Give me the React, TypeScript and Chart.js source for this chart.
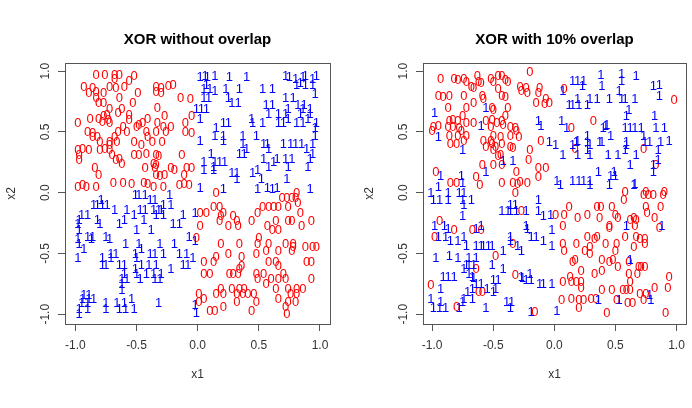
import React, { useEffect, useRef } from "react";
import { Chart, registerables } from "chart.js";

Chart.register(...registerables);

type Pt = [number, number];

const tickValues = [-1, -0.5, 0, 0.5, 1];
const tickLabels = ["-1.0", "-0.5", "0.0", "0.5", "1.0"];
const panelTitles = ["XOR without overlap", "XOR with 10% overlap"];
const xAxisTitle = "x1";
const yAxisTitle = "x2";
const classGlyphs = ["0", "1"];
const classColors = ["#ff0000", "#0000ff"];

// Panel 1: XOR without overlap, class "0"
const xorClass0: Pt[] = [
  [-0.83, 0.97], [-0.76, 0.97], [-0.68, 0.97], [-0.64, 0.97], [-0.52, 0.96], [-0.68, 0.94], [-0.56, 0.92],
  [-0.93, 0.87], [-0.86, 0.86], [-0.72, 0.87], [-0.67, 0.86], [-0.6, 0.87], [-0.34, 0.87], [-0.3, 0.86], [-0.24, 0.88], [-0.2, 0.89],
  [-0.89, 0.82], [-0.83, 0.83], [-0.77, 0.82], [-0.49, 0.82], [-0.34, 0.83], [-0.3, 0.82],
  [-0.83, 0.78], [-0.64, 0.78], [-0.14, 0.78], [-0.06, 0.77],
  [-0.81, 0.74], [-0.77, 0.74], [-0.53, 0.74],
  [-0.33, 0.7], [-0.72, 0.69], [-0.62, 0.69], [-0.65, 0.66],
  [-0.77, 0.63], [-0.74, 0.64], [-0.56, 0.64], [-0.27, 0.63], [-0.05, 0.63],
  [-0.88, 0.61], [-0.81, 0.61], [-0.73, 0.6], [-0.56, 0.6], [-0.41, 0.61],
  [-0.98, 0.57], [-0.78, 0.58], [-0.72, 0.57], [-0.48, 0.56], [-0.45, 0.57], [-0.33, 0.57], [-0.1, 0.57],
  [-0.61, 0.54], [-0.5, 0.54], [-0.28, 0.54], [-0.22, 0.54],
  [-0.9, 0.5], [-0.86, 0.49], [-0.65, 0.5], [-0.58, 0.5], [-0.42, 0.5], [-0.34, 0.5], [-0.26, 0.5], [-0.1, 0.5], [-0.05, 0.49],
  [-0.86, 0.46], [-0.82, 0.46], [-0.68, 0.46], [-0.41, 0.46],
  [-0.8, 0.42], [-0.72, 0.42], [-0.66, 0.42], [-0.52, 0.42], [-0.37, 0.42], [-0.29, 0.42],
  [-0.46, 0.39], [-0.72, 0.39],
  [-0.98, 0.35], [-0.94, 0.36], [-0.89, 0.35], [-0.8, 0.35], [-0.76, 0.36], [-0.72, 0.35],
  [-0.97, 0.31], [-0.7, 0.31], [-0.52, 0.31], [-0.48, 0.31], [-0.42, 0.32], [-0.34, 0.31], [-0.32, 0.3], [-0.13, 0.31],
  [-0.97, 0.27], [-0.67, 0.27], [-0.64, 0.28],
  [-0.62, 0.24], [-0.36, 0.24], [-0.34, 0.23],
  [-0.84, 0.2], [-0.43, 0.2], [-0.35, 0.2], [-0.22, 0.2], [-0.19, 0.19], [-0.09, 0.2], [-0.05, 0.2],
  [-0.81, 0.15], [-0.34, 0.15], [-0.31, 0.14], [-0.27, 0.15], [-0.11, 0.15],
  [-0.98, 0.05], [-0.94, 0.06], [-0.91, 0.05], [-0.83, 0.05], [-0.69, 0.08], [-0.61, 0.08], [-0.54, 0.07], [-0.44, 0.08],
  [-0.41, 0.07], [-0.36, 0.05], [-0.28, 0.05], [-0.15, 0.06], [-0.11, 0.07], [-0.07, 0.06],
  [0.15, 0.0], [0.81, 0.0],
  [0.69, -0.04], [0.73, -0.04], [0.77, -0.04], [0.8, -0.04], [0.82, -0.08],
  [0.13, -0.12], [0.18, -0.12], [0.53, -0.12], [0.58, -0.12], [0.62, -0.12], [0.66, -0.12], [0.74, -0.12],
  [0.02, -0.17], [0.07, -0.17], [0.21, -0.17], [0.49, -0.17], [0.84, -0.17],
  [0.19, -0.19], [0.29, -0.19],
  [0.18, -0.23], [0.32, -0.23], [0.44, -0.23], [0.64, -0.23], [0.74, -0.23], [0.77, -0.23], [0.93, -0.23],
  [0.02, -0.27], [0.25, -0.27], [0.33, -0.27], [0.57, -0.27], [0.85, -0.27],
  [0.61, -0.31], [0.66, -0.31],
  [-0.01, -0.37], [0.5, -0.37],
  [0.19, -0.42], [0.34, -0.42], [0.49, -0.42], [0.58, -0.42], [0.72, -0.42], [0.78, -0.42],
  [0.78, -0.45], [0.88, -0.45], [0.94, -0.45], [0.97, -0.45],
  [0.56, -0.48], [0.66, -0.48], [0.77, -0.48],
  [0.25, -0.5], [0.48, -0.5],
  [0.15, -0.53], [0.36, -0.53],
  [0.05, -0.57], [0.13, -0.57], [0.58, -0.57], [0.64, -0.57], [0.89, -0.57], [0.93, -0.57],
  [0.36, -0.6], [0.66, -0.6], [0.34, -0.63],
  [0.05, -0.67], [0.1, -0.67], [0.26, -0.67], [0.29, -0.67], [0.33, -0.67], [0.48, -0.67], [0.54, -0.67], [0.7, -0.67],
  [0.49, -0.71], [0.6, -0.71], [0.66, -0.71], [0.72, -0.71], [0.93, -0.71],
  [0.56, -0.75],
  [0.19, -0.79], [0.28, -0.79], [0.34, -0.79], [0.38, -0.79], [0.64, -0.79], [0.74, -0.79], [0.81, -0.79], [0.86, -0.79],
  [0.01, -0.83], [0.15, -0.83], [0.21, -0.83], [0.32, -0.83], [0.37, -0.83], [0.41, -0.83], [0.46, -0.83], [0.76, -0.83], [0.81, -0.83],
  [0.05, -0.87], [0.66, -0.87],
  [0.01, -0.9], [0.32, -0.9], [0.48, -0.9], [0.74, -0.9], [0.8, -0.9],
  [0.21, -0.94], [0.72, -0.94],
  [0.1, -0.97], [0.14, -0.97], [0.44, -0.97], [0.73, -1.0],
];

// Panel 1: XOR without overlap, class "1"
const xorClass1: Pt[] = [
  [0.02, 0.95], [0.06, 0.96], [0.08, 0.95], [0.14, 0.96], [0.26, 0.95], [0.4, 0.95], [0.72, 0.96], [0.75, 0.95],
  [0.8, 0.94], [0.86, 0.95], [0.88, 0.96], [0.94, 0.94], [0.97, 0.96],
  [0.07, 0.89], [0.81, 0.89], [0.84, 0.9], [0.88, 0.89], [0.94, 0.89],
  [0.05, 0.85], [0.1, 0.85], [0.14, 0.84], [0.23, 0.85], [0.34, 0.85], [0.53, 0.85], [0.61, 0.85],
  [0.96, 0.81],
  [0.05, 0.78], [0.09, 0.78], [0.25, 0.78], [0.72, 0.78], [0.78, 0.78],
  [0.28, 0.74], [0.33, 0.74],
  [0.56, 0.72], [0.61, 0.72], [0.82, 0.72], [0.87, 0.72],
  [-0.01, 0.69], [0.03, 0.69], [0.07, 0.69], [0.74, 0.69], [0.86, 0.69], [0.92, 0.69],
  [0.58, 0.65], [0.66, 0.65], [0.72, 0.65], [0.84, 0.65], [0.92, 0.65],
  [0.02, 0.61], [0.44, 0.61], [0.74, 0.61], [0.9, 0.61],
  [0.21, 0.57], [0.25, 0.57], [0.45, 0.57], [0.53, 0.57], [0.66, 0.57], [0.7, 0.57], [0.81, 0.57], [0.86, 0.57], [0.97, 0.57],
  [0.15, 0.53], [0.96, 0.53],
  [0.14, 0.47], [0.21, 0.47], [0.37, 0.47], [0.48, 0.47], [0.96, 0.47],
  [0.02, 0.43], [0.21, 0.43],
  [0.37, 0.4], [0.54, 0.4], [0.57, 0.4], [0.7, 0.4], [0.76, 0.4], [0.8, 0.4], [0.85, 0.4], [0.94, 0.4],
  [0.4, 0.36], [0.58, 0.36], [0.89, 0.36],
  [0.11, 0.32], [0.34, 0.32], [0.38, 0.32], [0.94, 0.32],
  [0.54, 0.28], [0.65, 0.28], [0.72, 0.28], [0.77, 0.28], [0.92, 0.28],
  [0.05, 0.25], [0.14, 0.25], [0.18, 0.25], [0.22, 0.25], [0.62, 0.25],
  [0.13, 0.21], [0.58, 0.21], [0.74, 0.21], [0.9, 0.21],
  [0.05, 0.19], [0.13, 0.19], [0.49, 0.19],
  [0.28, 0.16], [0.32, 0.16], [0.45, 0.16],
  [0.32, 0.11], [0.52, 0.11], [0.73, 0.11],
  [0.02, 0.04], [0.21, 0.03], [0.49, 0.03], [0.57, 0.04], [0.61, 0.03], [0.65, 0.04], [0.92, 0.03],
  [-0.51, -0.02], [-0.48, -0.02], [-0.43, -0.02], [-0.23, -0.02],
  [-0.79, -0.06], [-0.39, -0.06], [-0.35, -0.06],
  [-0.85, -0.1], [-0.82, -0.1], [-0.78, -0.1], [-0.74, -0.1], [-0.28, -0.1], [-0.22, -0.1],
  [-0.68, -0.14], [-0.58, -0.14], [-0.47, -0.14], [-0.43, -0.14], [-0.36, -0.14], [-0.32, -0.14], [-0.3, -0.14],
  [-0.95, -0.18], [-0.9, -0.18], [-0.52, -0.18], [-0.34, -0.18], [-0.28, -0.18], [-0.12, -0.18], [-0.02, -0.17],
  [-0.97, -0.22], [-0.82, -0.22], [-0.6, -0.22], [-0.44, -0.22],
  [-0.98, -0.26], [-0.8, -0.26], [-0.64, -0.26], [-0.2, -0.26], [-0.15, -0.26],
  [-0.97, -0.31], [-0.5, -0.31], [-0.38, -0.31],
  [-0.9, -0.36], [-0.86, -0.36], [-0.75, -0.36], [-0.07, -0.36],
  [-0.98, -0.38], [-0.87, -0.38], [-0.72, -0.38], [-0.02, -0.4],
  [-0.97, -0.42], [-0.59, -0.42], [-0.48, -0.42], [-0.31, -0.42], [-0.19, -0.42],
  [-0.93, -0.46], [-0.46, -0.46],
  [-0.71, -0.5], [-0.67, -0.5], [-0.51, -0.5], [-0.39, -0.5], [-0.35, -0.5], [-0.28, -0.5], [-0.15, -0.5], [-0.09, -0.5],
  [-0.98, -0.54], [-0.78, -0.54], [-0.71, -0.54], [-0.5, -0.54], [-0.04, -0.54],
  [-0.78, -0.59], [-0.75, -0.59], [-0.64, -0.59], [-0.6, -0.59], [-0.46, -0.59], [-0.4, -0.59], [-0.34, -0.59], [-0.12, -0.59], [-0.08, -0.59],
  [-0.51, -0.63], [-0.22, -0.63],
  [-0.6, -0.67], [-0.5, -0.67], [-0.42, -0.67], [-0.36, -0.67], [-0.3, -0.67],
  [-0.62, -0.71], [-0.58, -0.71], [-0.47, -0.71], [-0.35, -0.71], [-0.31, -0.71],
  [-0.62, -0.75], [-0.62, -0.8],
  [-0.93, -0.84], [-0.89, -0.84],
  [-0.94, -0.87], [-0.89, -0.87], [-0.85, -0.87], [-0.54, -0.87],
  [-0.95, -0.91], [-0.9, -0.91], [-0.75, -0.91], [-0.66, -0.91], [-0.6, -0.91], [-0.32, -0.91], [-0.02, -0.92],
  [-0.97, -0.96], [-0.9, -0.96], [-0.75, -0.96], [-0.64, -0.96], [-0.59, -0.96], [-0.52, -0.96],
  [-0.97, -1.0], [-0.01, -0.99],
];

// Panel 2: XOR with 10% overlap, class "0"
const overlapClass0: Pt[] = [
  [-0.2, 0.99],
  [-0.63, 0.96], [-0.46, 0.96], [-0.43, 0.96],
  [-0.93, 0.94], [-0.82, 0.94], [-0.79, 0.93], [-0.74, 0.94], [-0.52, 0.94], [-0.4, 0.93],
  [-0.72, 0.91], [-0.62, 0.91], [-0.6, 0.9], [-0.5, 0.91], [-0.38, 0.91],
  [-0.68, 0.87], [-0.66, 0.86], [-0.28, 0.87], [-0.23, 0.86], [-0.12, 0.86],
  [-0.46, 0.85], [-0.27, 0.84], [-0.22, 0.82], [-0.13, 0.82],
  [-0.95, 0.8], [-0.91, 0.79], [-0.86, 0.8], [-0.74, 0.8], [-0.59, 0.8], [-0.43, 0.8], [-0.4, 0.79],
  [-0.58, 0.77], [-0.07, 0.77],
  [-0.66, 0.74], [-0.15, 0.74], [-0.08, 0.73], [-0.04, 0.74],
  [-0.87, 0.7], [-0.72, 0.7], [-0.51, 0.7], [-0.38, 0.7], [-0.5, 0.68],
  [-0.75, 0.63], [-0.4, 0.63],
  [-0.86, 0.59], [-0.83, 0.6], [-0.79, 0.59], [-0.56, 0.59], [-0.51, 0.6], [-0.43, 0.59],
  [-0.47, 0.57], [-0.42, 0.56], [-0.66, 0.57], [-0.72, 0.57],
  [-0.99, 0.54], [-0.95, 0.55], [-0.87, 0.54], [-0.83, 0.54], [-0.78, 0.53], [-0.52, 0.54], [-0.36, 0.54], [-0.32, 0.53],
  [-1.0, 0.51], [-0.76, 0.51], [-0.31, 0.51],
  [-0.86, 0.47], [-0.79, 0.47], [-0.72, 0.47], [-0.5, 0.47], [-0.44, 0.46], [-0.36, 0.47], [-0.29, 0.46],
  [-0.74, 0.43], [-0.58, 0.43], [-0.52, 0.43], [-0.11, 0.43],
  [-0.85, 0.4], [-0.8, 0.4], [-0.51, 0.4], [-0.43, 0.4],
  [-0.56, 0.38], [-0.48, 0.38], [-0.36, 0.38], [-0.34, 0.37],
  [-0.5, 0.35], [-0.2, 0.35], [-0.44, 0.31], [-0.46, 0.3], [-0.21, 0.27],
  [-0.59, 0.23], [-0.5, 0.23], [-0.43, 0.23],
  [-0.13, 0.2], [-0.07, 0.2], [-0.97, 0.17], [-0.31, 0.17], [-0.64, 0.13], [-0.13, 0.13],
  [-0.85, 0.08], [-0.8, 0.08], [-0.61, 0.06], [-0.43, 0.08], [-0.34, 0.08], [-0.3, 0.07], [-0.28, 0.09], [-0.22, 0.08],
  [0.08, 0.85], [0.98, 0.76], [0.32, 0.59], [0.14, 0.53], [0.17, 0.36], [0.73, 0.36], [0.83, 0.23],
  [-0.32, 0.0], [-0.27, -0.15], [-0.94, -0.23], [-0.82, -0.31], [-0.67, -0.31], [-0.6, -0.31], [-0.98, -0.36],
  [-0.34, -0.42], [-0.48, -0.52], [-0.64, -0.63], [-0.32, -0.68], [-1.01, -0.76], [-0.62, -0.82], [-0.59, -0.82],
  [-0.8, -0.94], [-0.16, -0.98],
  [0.58, 0.01], [0.75, 0.01], [0.9, 0.01],
  [0.73, -0.02], [0.77, -0.02], [0.81, -0.02], [0.89, -0.02],
  [0.57, -0.06],
  [0.12, -0.12], [0.35, -0.12], [0.38, -0.12], [0.47, -0.12], [0.75, -0.12], [0.87, -0.12],
  [0.76, -0.17],
  [0.01, -0.18], [0.08, -0.18], [0.27, -0.18], [0.5, -0.18],
  [0.19, -0.21], [0.37, -0.21], [0.52, -0.21], [0.65, -0.21], [0.82, -0.21],
  [0.62, -0.22], [0.67, -0.22],
  [0.07, -0.27], [0.45, -0.27], [0.66, -0.27],
  [0.45, -0.29], [0.86, -0.29],
  [0.27, -0.36], [0.35, -0.36], [0.58, -0.36], [0.67, -0.36],
  [0.33, -0.38], [0.7, -0.38], [0.74, -0.38],
  [0.07, -0.42], [0.18, -0.42], [0.42, -0.42], [0.51, -0.42], [0.74, -0.42],
  [0.29, -0.45], [0.65, -0.45],
  [0.08, -0.48], [0.25, -0.48], [0.5, -0.48], [0.29, -0.5],
  [0.17, -0.55], [0.39, -0.55], [0.48, -0.55],
  [0.15, -0.57], [0.45, -0.57], [0.61, -0.57],
  [0.52, -0.61], [0.69, -0.61], [0.71, -0.61], [0.74, -0.61],
  [0.22, -0.64], [0.39, -0.64],
  [0.33, -0.67], [0.61, -0.67], [0.68, -0.67],
  [0.13, -0.69], [0.94, -0.69],
  [0.07, -0.73], [0.14, -0.73], [0.18, -0.73], [0.22, -0.73], [0.62, -0.73],
  [0.22, -0.78], [0.82, -0.78], [0.93, -0.78],
  [0.39, -0.8], [0.47, -0.8], [0.56, -0.8], [0.59, -0.8], [0.62, -0.8],
  [0.7, -0.83], [0.75, -0.83],
  [0.14, -0.87], [0.3, -0.87], [0.34, -0.87],
  [0.06, -0.88], [0.2, -0.88], [0.24, -0.88], [0.51, -0.88], [0.73, -0.88],
  [0.6, -0.91], [0.64, -0.91], [0.2, -0.95], [0.43, -0.99], [0.91, -0.99],
];

// Panel 2: XOR with 10% overlap, class "1"
const overlapClass1: Pt[] = [
  [-0.56, 0.7], [-0.98, 0.66], [-0.13, 0.59], [-0.6, 0.55], [-0.11, 0.55], [-0.95, 0.46], [-0.04, 0.42],
  [-0.75, 0.35], [-0.42, 0.26], [-0.34, 0.26], [-0.56, 0.17], [-0.93, 0.14], [-0.76, 0.14], [-0.75, 0.08], [-0.95, 0.05],
  [0.38, 0.97], [0.55, 0.98], [0.67, 0.96],
  [0.15, 0.92], [0.19, 0.92], [0.24, 0.92], [0.55, 0.92],
  [0.23, 0.88], [0.39, 0.88], [0.81, 0.88], [0.86, 0.89],
  [0.07, 0.84], [0.53, 0.84], [0.86, 0.8],
  [0.19, 0.77], [0.29, 0.77], [0.35, 0.77], [0.45, 0.77], [0.55, 0.77], [0.58, 0.77], [0.66, 0.77],
  [0.12, 0.72], [0.15, 0.72], [0.2, 0.72], [0.27, 0.72],
  [0.61, 0.68], [0.59, 0.63], [0.82, 0.63], [0.06, 0.59],
  [0.42, 0.55], [0.43, 0.56],
  [0.1, 0.53], [0.4, 0.53], [0.58, 0.53], [0.62, 0.53], [0.66, 0.53], [0.71, 0.53], [0.83, 0.53], [0.9, 0.53],
  [0.27, 0.47], [0.46, 0.47], [0.73, 0.47],
  [0.18, 0.42], [0.19, 0.43], [0.27, 0.42], [0.37, 0.42], [0.39, 0.42], [0.59, 0.42], [0.74, 0.42], [0.78, 0.42], [0.87, 0.42], [0.94, 0.43],
  [0.01, 0.39], [0.15, 0.39], [0.59, 0.39], [0.29, 0.39],
  [0.27, 0.35], [0.58, 0.35], [0.85, 0.35],
  [0.07, 0.31], [0.19, 0.31], [0.29, 0.31], [0.44, 0.31], [0.52, 0.31], [0.67, 0.31],
  [0.85, 0.27], [0.62, 0.23], [0.81, 0.23],
  [0.36, 0.17], [0.49, 0.17], [0.81, 0.17], [0.46, 0.14], [0.5, 0.14],
  [0.02, 0.1], [0.15, 0.1], [0.2, 0.1], [0.24, 0.1], [0.29, 0.1],
  [0.05, 0.06], [0.29, 0.06], [0.45, 0.06], [0.65, 0.06], [0.66, 0.07],
  [-1.01, 0.0], [-0.87, 0.0], [-0.78, 0.0], [-0.74, 0.0],
  [-0.99, -0.06], [-0.94, -0.06], [-0.87, -0.06], [-0.75, -0.06], [-0.68, -0.06], [-0.13, -0.06],
  [-0.74, -0.1], [-0.36, -0.1], [-0.32, -0.1],
  [-0.43, -0.15], [-0.38, -0.15], [-0.36, -0.15], [-0.31, -0.15], [-0.23, -0.15], [-0.13, -0.15],
  [-0.75, -0.19], [-0.09, -0.19],
  [-0.98, -0.27], [-0.9, -0.27], [-0.6, -0.27], [-0.23, -0.27],
  [-0.87, -0.3], [-0.64, -0.3], [-0.22, -0.3],
  [-0.95, -0.36], [-0.89, -0.36], [-0.74, -0.36], [-0.36, -0.36], [-0.19, -0.36], [-0.15, -0.36],
  [-0.85, -0.4], [-0.79, -0.4], [-0.36, -0.4], [-0.09, -0.4],
  [-0.72, -0.44], [-0.64, -0.44], [-0.6, -0.44], [-0.58, -0.44], [-0.54, -0.44], [-0.51, -0.44], [-0.3, -0.44],
  [-0.27, -0.48], [-0.42, -0.48], [-0.86, -0.52],
  [-0.97, -0.54], [-0.79, -0.54], [-0.7, -0.54], [-0.64, -0.54],
  [-0.72, -0.59], [-0.7, -0.59], [-0.66, -0.59], [-0.51, -0.59],
  [-0.74, -0.63], [-0.42, -0.63], [-0.7, -0.67], [-0.2, -0.67],
  [-0.91, -0.69], [-0.87, -0.69], [-0.82, -0.69], [-0.67, -0.69], [-0.66, -0.7], [-0.27, -0.69], [-0.26, -0.7],
  [-0.5, -0.72], [-0.46, -0.72], [-0.23, -0.72], [-0.19, -0.72],
  [-0.6, -0.75], [-0.64, -0.75], [-0.12, -0.75], [-0.09, -0.75],
  [-0.93, -0.79], [-0.67, -0.79], [-0.55, -0.79], [-0.48, -0.79],
  [-0.71, -0.82], [-0.5, -0.82],
  [-1.01, -0.87], [-0.74, -0.87], [-0.67, -0.87],
  [-0.93, -0.9], [-0.75, -0.9], [-0.39, -0.9], [-0.35, -0.9],
  [-0.99, -0.95], [-0.94, -0.95], [-0.89, -0.95], [-0.78, -0.95], [-0.56, -0.95], [-0.36, -0.95], [-0.19, -0.98],
  [-0.03, -0.18], [0.59, -0.27], [0.88, -0.27], [-0.02, -0.31], [-0.02, -0.44], [0.62, -0.55], [-0.02, -0.75],
  [0.78, -0.84], [0.36, -0.88], [0.53, -0.88], [0.79, -0.88], [0.02, -0.97],
];

const FONT = '"Liberation Sans", Arial, Helvetica, sans-serif';
const AXIS_COLOR = "#555555";
const TEXT_COLOR = "#333333";

interface PanelSpec {
  title: string;
  zeros: Pt[];
  ones: Pt[];
  xMin: number;
  xMax: number;
  yMin: number;
  yMax: number;
  yAxisWidth: number;
  padRight: number;
}

function buildChart(canvas: HTMLCanvasElement, spec: PanelSpec) {
  const decor = {
    id: "decor",
    afterDatasetsDraw(chart: any) {
      const ctx = chart.ctx as CanvasRenderingContext2D;
      ctx.save();
      ctx.font = `13px ${FONT}`;
      ctx.textAlign = "center";
      ctx.textBaseline = "middle";
      chart.data.datasets.forEach((ds: any, i: number) => {
        const meta = chart.getDatasetMeta(i);
        ctx.fillStyle = ds.borderColor;
        meta.data.forEach((el: any) => {
          ctx.fillText(ds.label, el.x, el.y + 0.5);
        });
      });
      ctx.restore();
    },
    afterDraw(chart: any) {
      const ctx = chart.ctx as CanvasRenderingContext2D;
      const a = chart.chartArea;
      const yScale = chart.scales.y;
      ctx.save();
      // box
      ctx.strokeStyle = AXIS_COLOR;
      ctx.lineWidth = 1;
      ctx.strokeRect(Math.round(a.left) + 0.5, Math.round(a.top) + 0.5, Math.round(a.right - a.left), Math.round(a.bottom - a.top));
      // y tick labels (rotated, R style)
      ctx.fillStyle = TEXT_COLOR;
      ctx.font = `12px ${FONT}`;
      ctx.textAlign = "center";
      ctx.textBaseline = "alphabetic";
      tickValues.forEach((v, i) => {
        const y = yScale.getPixelForValue(v);
        ctx.save();
        ctx.translate(a.left - 16, y);
        ctx.rotate(-Math.PI / 2);
        ctx.fillText(tickLabels[i], 0, 0);
        ctx.restore();
      });
      // axis titles
      const cx = (a.left + a.right) / 2;
      const cy = (a.top + a.bottom) / 2;
      ctx.textBaseline = "middle";
      ctx.fillText(xAxisTitle, cx, 375);
      ctx.save();
      ctx.translate(a.left - 53, cy);
      ctx.rotate(-Math.PI / 2);
      ctx.fillText(yAxisTitle, 0, 0);
      ctx.restore();
      // main title
      ctx.fillStyle = "#000000";
      ctx.font = `bold 15px ${FONT}`;
      ctx.textBaseline = "alphabetic";
      ctx.fillText(spec.title, cx, 44);
      ctx.restore();
    },
  };

  const toXY = (p: Pt) => ({ x: p[0], y: p[1] });
  const setTicks = (s: any) => {
    s.ticks = tickValues.map((v) => ({ value: v }));
  };

  return new Chart(canvas, {
    type: "scatter",
    data: {
      datasets: [
        {
          label: classGlyphs[0],
          data: spec.zeros.map(toXY),
          borderColor: classColors[0],
          backgroundColor: classColors[0],
          pointRadius: 0,
          pointHoverRadius: 0,
        },
        {
          label: classGlyphs[1],
          data: spec.ones.map(toXY),
          borderColor: classColors[1],
          backgroundColor: classColors[1],
          pointRadius: 0,
          pointHoverRadius: 0,
        },
      ],
    },
    options: {
      responsive: false,
      animation: false,
      events: [],
      layout: { padding: { top: 63, right: spec.padRight, bottom: 0, left: 0 } },
      plugins: {
        legend: { display: false },
        tooltip: { enabled: false },
        title: { display: false },
      },
      scales: {
        x: {
          type: "linear",
          min: spec.xMin,
          max: spec.xMax,
          afterBuildTicks: setTicks,
          afterFit: (s: any) => {
            s.height = 84;
          },
          grid: { drawOnChartArea: false, drawTicks: true, tickLength: 7, color: AXIS_COLOR, lineWidth: 1 },
          border: { display: false },
          ticks: {
            padding: 7,
            maxRotation: 0,
            minRotation: 0,
            color: TEXT_COLOR,
            font: { family: FONT, size: 12 },
            callback: (v: any) => tickLabels[tickValues.indexOf(Number(v))] ?? "",
          },
        },
        y: {
          type: "linear",
          min: spec.yMin,
          max: spec.yMax,
          afterBuildTicks: setTicks,
          afterFit: (s: any) => {
            s.width = spec.yAxisWidth;
          },
          grid: { drawOnChartArea: false, drawTicks: true, tickLength: 7, color: AXIS_COLOR, lineWidth: 1 },
          border: { display: false },
          ticks: { display: false },
        },
      },
    } as any,
    plugins: [decor],
  });
}

const W = 692;
const H = 408;
const HALF = 346;

export default function App() {
  const leftRef = useRef<HTMLCanvasElement>(null);
  const rightRef = useRef<HTMLCanvasElement>(null);

  useEffect(() => {
    const charts: Chart[] = [];
    if (leftRef.current) {
      charts.push(
        buildChart(leftRef.current, {
          title: panelTitles[0],
          zeros: xorClass0,
          ones: xorClass1,
          xMin: -1.085,
          xMax: 1.082,
          yMin: -1.08,
          yMax: 1.067,
          yAxisWidth: 65,
          padRight: 16,
        })
      );
    }
    if (rightRef.current) {
      charts.push(
        buildChart(rightRef.current, {
          title: panelTitles[1],
          zeros: overlapClass0,
          ones: overlapClass1,
          xMin: -1.075,
          xMax: 1.078,
          yMin: -1.08,
          yMax: 1.067,
          yAxisWidth: 77,
          padRight: 4,
        })
      );
    }
    return () => charts.forEach((c) => c.destroy());
  }, []);

  return (
    <div style={{ position: "absolute", left: 0, top: 0, width: W, height: H, background: "#ffffff", overflow: "hidden" }}>
      <canvas ref={leftRef} width={HALF} height={H} style={{ position: "absolute", left: 0, top: 0, width: HALF, height: H }} />
      <canvas ref={rightRef} width={HALF} height={H} style={{ position: "absolute", left: HALF, top: 0, width: HALF, height: H }} />
    </div>
  );
}
